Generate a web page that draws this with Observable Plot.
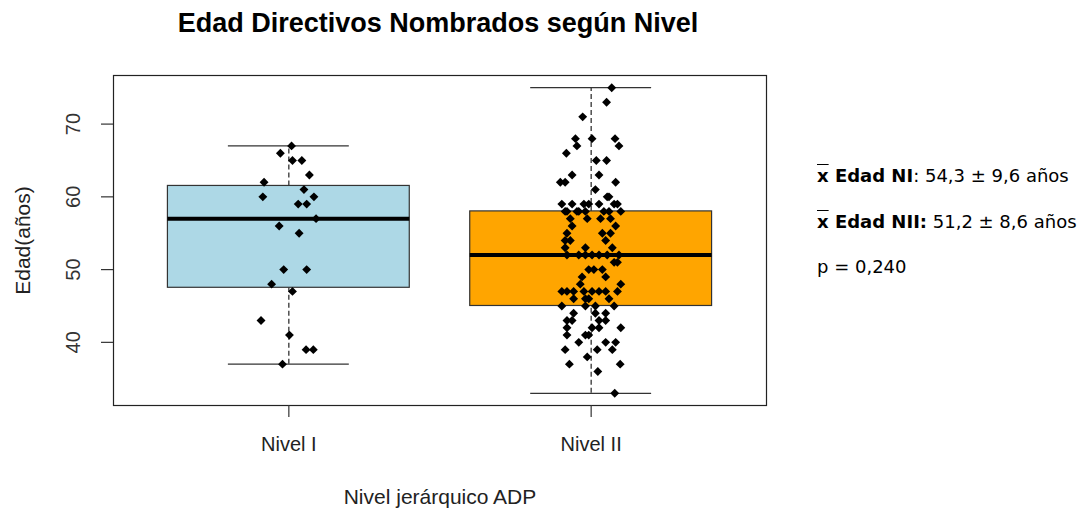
<!DOCTYPE html>
<html>
<head>
<meta charset="utf-8">
<script src="https://cdn.jsdelivr.net/npm/d3@7"></script>
<script src="https://cdn.jsdelivr.net/npm/@observablehq/plot@0.6"></script>
<style>
  body { margin: 0; background: #fff; }
  #wrap { position: relative; width: 1089px; height: 511px; overflow: hidden; }
  #chart svg { display: block; }
  .stat { position: absolute; left: 817px; font-family: "DejaVu Sans", Verdana, sans-serif; font-size: 18px; line-height: 18px; color: #000; white-space: nowrap; }
  .xbar { text-decoration: overline; }
</style>
</head>
<body>
<div id="wrap">
  <div id="chart"></div>
</div>
<script>
// ---- Data ----
const title = "Edad Directivos Nombrados según Nivel";
const xTitle = "Nivel jerárquico ADP";
const yTitle = "Edad(años)";
const categories = ["Nivel I", "Nivel II"];
const categoryPos = [1, 2];
const boxColors = ["#ADD8E6", "#FFA500"];
const yTicks = [40, 50, 60, 70];

// Nivel I: ages and horizontal jitter positions
const nivel1Edad = [67, 66, 65, 65, 63, 62, 61, 60, 60, 59, 59, 57, 56, 55, 50, 50, 48, 47, 43, 41, 39, 39, 37];
const nivel1X    = [1.009, 0.972, 1.012, 1.043, 1.068, 0.918, 1.05, 0.914, 1.083, 1.031, 1.059, 1.09, 0.968, 1.034, 0.983, 1.059, 0.943, 1.012, 0.908, 1.002, 1.057, 1.081, 0.979];

// Nivel II: ages and horizontal jitter positions
const nivel2Edad = [
  75, 73, 71,
  68, 68, 68, 67, 67, 66, 65, 65, 63, 63, 62, 62, 62, 61, 60, 60,
  59, 59, 59, 59, 59, 59, 59,
  58, 58, 58, 58, 58, 58, 58, 58,
  57, 57, 57, 57, 56, 56, 55, 55, 55, 54, 54, 54, 53, 53, 53,
  52, 52, 52, 52, 52, 52, 52, 51, 51, 50, 50, 50, 49, 49, 48, 48,
  47, 47, 47, 47, 47, 47, 47, 47, 46, 46, 46, 46, 45, 45, 45, 45,
  44, 44, 44, 43, 43, 43, 43, 42, 42, 42, 42, 41, 41, 41, 40, 40, 40,
  39, 39, 39, 38, 37, 37, 36, 33
];
const nivel2X = [
  2.068, 2.051, 1.972,
  1.948, 2.003, 2.079, 1.953, 2.092, 1.918, 2.017, 2.051, 1.937, 2.026, 1.898, 1.914, 2.081, 2.014, 2.053, 2.059,
  1.903, 1.937, 1.976, 1.992, 2.026, 2.076, 2.087,
  1.914, 1.92, 1.953, 1.959, 1.981, 2.042, 2.059, 2.098,
  1.931, 1.987, 2.031, 2.064, 1.937, 2.081, 1.92, 2.037, 2.064, 1.914, 1.931, 2.048, 1.914, 1.981, 2.07,
  1.92, 1.959, 1.981, 2.003, 2.026, 2.053, 2.092, 2.076, 2.087, 1.992, 2.009, 2.037, 1.97, 2.048, 1.964, 2.098,
  1.903, 1.92, 1.942, 1.976, 2.003, 2.026, 2.048, 2.087, 1.942, 1.981, 1.992, 2.059, 1.903, 1.981, 2.014, 2.076,
  1.942, 2.014, 2.048, 1.92, 1.937, 2.026, 2.048, 1.92, 2.003, 2.026, 2.098, 1.92, 1.981, 1.992, 1.959, 2.048, 2.081,
  1.914, 2.02, 2.07, 1.987, 1.928, 2.096, 2.022, 2.078
];

// Summary text shown on the right
const statLabels = ["Edad NI", "Edad NII:"];
const statValues = [": 54,3 ± 9,6 años", " 51,2 ± 8,6 años"];
const pText = "p = 0,240";

// ---- Build tables ----
const points = [
  ...nivel1Edad.map((v, i) => ({x: nivel1X[i], edad: v})),
  ...nivel2Edad.map((v, i) => ({x: nivel2X[i], edad: v}))
];

// R-style boxplot statistics (fivenum hinges, 1.5 IQR whiskers)
function boxStats(values, pos, fill) {
  const s = values.slice().sort((a, b) => a - b);
  const n = s.length;
  const at = k => (s[Math.floor(k) - 1] + s[Math.ceil(k) - 1]) / 2;
  const n4 = Math.floor((n + 3) / 2) / 2;
  const q1 = at(n4), med = at((n + 1) / 2), q3 = at(n + 1 - n4);
  const iqr = q3 - q1;
  const lo = d3.min(s.filter(v => v >= q1 - 1.5 * iqr));
  const hi = d3.max(s.filter(v => v <= q3 + 1.5 * iqr));
  return {pos, q1, med, q3, lo, hi, fill};
}
const stats = [
  boxStats(nivel1Edad, categoryPos[0], boxColors[0]),
  boxStats(nivel2Edad, categoryPos[1], boxColors[1])
];
const xLabels = categories.map((c, i) => ({x: categoryPos[i], label: c}));

const fontR = "'Liberation Sans', Arial, Helvetica, sans-serif";

const chart = Plot.plot({
  width: 1089,
  height: 511,
  marginLeft: 113,
  marginRight: 323,
  marginTop: 75,
  marginBottom: 106,
  style: {fontFamily: fontR, background: "#fff", overflow: "visible"},
  x: {type: "linear", domain: [0.42, 2.58], axis: null},
  y: {domain: [31.32, 76.68], axis: null},
  marks: [
    // whiskers (dashed)
    Plot.ruleX(stats, {x: "pos", y1: "q3", y2: "hi", stroke: "#222", strokeWidth: 1.2, strokeDasharray: "5,3"}),
    Plot.ruleX(stats, {x: "pos", y1: "lo", y2: "q1", stroke: "#222", strokeWidth: 1.2, strokeDasharray: "5,3"}),
    // whisker caps
    Plot.ruleY(stats, {y: "hi", x1: d => d.pos - 0.2, x2: d => d.pos + 0.2, stroke: "#333", strokeWidth: 1.2}),
    Plot.ruleY(stats, {y: "lo", x1: d => d.pos - 0.2, x2: d => d.pos + 0.2, stroke: "#333", strokeWidth: 1.2}),
    // boxes
    Plot.rect(stats, {x1: d => d.pos - 0.4, x2: d => d.pos + 0.4, y1: "q1", y2: "q3", fill: "fill", stroke: "#333", strokeWidth: 1.2}),
    // medians
    Plot.ruleY(stats, {y: "med", x1: d => d.pos - 0.4, x2: d => d.pos + 0.4, stroke: "#000", strokeWidth: 4}),
    // jittered points
    Plot.dot(points, {x: "x", y: "edad", symbol: "diamond2", r: 4, fill: "#000", stroke: "none"}),
    // frame
    Plot.frame({stroke: "#222", strokeWidth: 1.2}),
    // axes ticks
    Plot.axisY(yTicks, {tickSize: 12, tickFormat: () => "", label: null, stroke: "#333", strokeWidth: 1.2}),
    Plot.axisX(categoryPos, {tickSize: 12, tickFormat: () => "", label: null, stroke: "#333", strokeWidth: 1.2}),
    // y tick labels (rotated, R style)
    Plot.text(yTicks, {y: d => d, text: d => String(d), frameAnchor: "left", dx: -40, rotate: -90, textAnchor: "middle", lineAnchor: "middle", fontSize: 20, fill: "#333"}),
    // x tick labels
    Plot.text(xLabels, {x: "x", text: "label", frameAnchor: "bottom", dy: 39, textAnchor: "middle", lineAnchor: "middle", fontSize: 20, fill: "#222"}),
    // axis titles
    Plot.text([yTitle], {text: d => d, frameAnchor: "left", dx: -90, rotate: -90, textAnchor: "middle", lineAnchor: "middle", fontSize: 21, fill: "#222"}),
    Plot.text([xTitle], {text: d => d, frameAnchor: "bottom", dy: 92, textAnchor: "middle", lineAnchor: "middle", fontSize: 21, fill: "#222"}),
    // title
    Plot.text([title], {text: d => d, frameAnchor: "top", dx: -2, dy: -52, textAnchor: "middle", lineAnchor: "middle", fontSize: 27, fontWeight: "bold", fill: "#000"})
  ]
});
document.getElementById("chart").appendChild(chart);

// Right-side summary text
const wrap = document.getElementById("wrap");
const tops = [167, 213, 258];
statLabels.forEach((lab, i) => {
  const div = document.createElement("div");
  div.className = "stat";
  div.style.top = tops[i] + "px";
  const b = document.createElement("b");
  const xb = document.createElement("span");
  xb.className = "xbar";
  xb.textContent = "x";
  b.appendChild(xb);
  b.appendChild(document.createTextNode(" " + lab));
  div.appendChild(b);
  div.appendChild(document.createTextNode(statValues[i]));
  wrap.appendChild(div);
});
const pDiv = document.createElement("div");
pDiv.className = "stat";
pDiv.style.top = tops[2] + "px";
pDiv.textContent = pText;
wrap.appendChild(pDiv);
</script>
</body>
</html>
